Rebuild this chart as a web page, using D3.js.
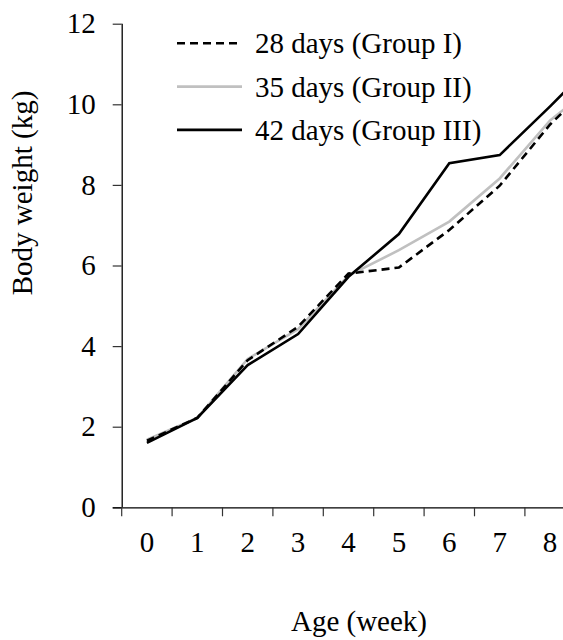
<!DOCTYPE html>
<html>
<head>
<meta charset="utf-8">
<script src="https://cdn.jsdelivr.net/npm/d3@7"></script>
<style>
  body { margin: 0; background: #fff; }
</style>
</head>
<body>
<div id="chart"></div>
<script>
// weeks of age (week 9 sits just past the right edge of the picture)
const weeks = [0, 1, 2, 3, 4, 5, 6, 7, 8, 9];
const weekLabels = [0, 1, 2, 3, 4, 5, 6, 7, 8];
const yTicks = [0, 2, 4, 6, 8, 10, 12];

// body weight (kg)
const groupI = [1.65, 2.22, 3.65, 4.48, 5.80, 5.95, 6.88, 7.98, 9.50, 10.70];
const groupII = [1.68, 2.22, 3.68, 4.42, 5.75, 6.38, 7.09, 8.16, 9.60, 10.60];
const groupIII = [1.60, 2.22, 3.53, 4.30, 5.72, 6.78, 8.54, 8.74, 9.95, 11.20];

const seriesNames = ["28 days (Group I)", "35 days (Group II)", "42 days (Group III)"];

const width = 563;
const height = 640;
const plotLeft = 121.7;
const step = 50.4;
const plotTop = 23.7;
const plotBottom = 507.3;
const serif = "Liberation Serif";
const fontSize = 29;

const svg = d3.select("#chart")
    .append("svg")
    .attr("width", width)
    .attr("height", height);

const x = d3.scaleBand()
    .domain(weeks)
    .range([plotLeft, plotLeft + weeks.length * step])
    .padding(0);

const y = d3.scaleLinear()
    .domain([0, 12])
    .range([plotBottom, plotTop]);

const cx = d => x(d) + x.bandwidth() / 2;

// y axis
const yAxis = svg.append("g")
    .attr("transform", `translate(${plotLeft},0)`)
    .call(d3.axisLeft(y).tickValues(yTicks).tickSize(9).tickPadding(17));
yAxis.attr("font-family", serif).attr("font-size", fontSize);
yAxis.select(".domain").attr("stroke", "#000").attr("stroke-width", 1.3)
    .attr("d", `M0.5,${plotTop}V${plotBottom}`);
yAxis.selectAll(".tick line").attr("stroke", "#333").attr("stroke-width", 1.2);
yAxis.selectAll(".tick text").attr("fill", "#000");

// x axis: tick marks on the category boundaries, labels in the middle
const xAxis = svg.append("g")
    .attr("transform", `translate(0,${plotBottom})`)
    .call(d3.axisBottom(x).tickValues(weekLabels).tickSize(0).tickPadding(24));
xAxis.attr("font-family", serif).attr("font-size", fontSize);
xAxis.select(".domain").attr("stroke", "#000").attr("stroke-width", 1.3)
    .attr("d", `M${plotLeft - 9},0.5H${width}`);
xAxis.selectAll(".tick text").attr("fill", "#000");

xAxis.selectAll(".boundary")
    .data(weekLabels)
    .enter()
    .append("line")
    .attr("class", "boundary")
    .attr("x1", d => x(d))
    .attr("x2", d => x(d))
    .attr("y1", 0)
    .attr("y2", 9)
    .attr("stroke", "#333")
    .attr("stroke-width", 1.2);

// axis titles
svg.append("text")
    .attr("transform", "translate(32,193) rotate(-90)")
    .attr("text-anchor", "middle")
    .style("font-family", serif)
    .style("font-size", fontSize + "px")
    .text("Body weight (kg)");

svg.append("text")
    .attr("x", 359)
    .attr("y", 631)
    .attr("text-anchor", "middle")
    .style("font-family", serif)
    .style("font-size", fontSize + "px")
    .text("Age (week)");

// lines
const line = d3.line()
    .x((d, i) => cx(weeks[i]))
    .y(d => y(d));

const styles = [
    { data: groupII, stroke: "#c0c0c0", dash: null },
    { data: groupI, stroke: "#000", dash: "8,5" },
    { data: groupIII, stroke: "#000", dash: null }
];

svg.append("clipPath")
    .attr("id", "clip")
    .append("rect")
    .attr("x", plotLeft)
    .attr("y", 0)
    .attr("width", width - plotLeft)
    .attr("height", plotBottom);

svg.append("g")
    .attr("clip-path", "url(#clip)")
    .selectAll(".series")
    .data(styles)
    .enter()
    .append("path")
    .attr("class", "series")
    .attr("d", d => line(d.data))
    .attr("fill", "none")
    .attr("stroke", d => d.stroke)
    .attr("stroke-width", 2.6)
    .attr("stroke-dasharray", d => d.dash)
    .attr("stroke-linejoin", "miter");

// legend
const legendStyles = [
    { stroke: "#000", dash: "8,5" },
    { stroke: "#c0c0c0", dash: null },
    { stroke: "#000", dash: null }
];

const legend = svg.append("g").attr("class", "legend");
const items = legend.selectAll("g")
    .data(seriesNames)
    .enter()
    .append("g")
    .attr("transform", (d, i) => `translate(0,${43.3 + i * 43.3})`);

items.append("line")
    .attr("x1", 177)
    .attr("x2", 242)
    .attr("y1", 0)
    .attr("y2", 0)
    .attr("stroke", (d, i) => legendStyles[i].stroke)
    .attr("stroke-dasharray", (d, i) => legendStyles[i].dash)
    .attr("stroke-width", 2.6);

items.append("text")
    .attr("x", 255)
    .attr("y", 10)
    .style("font-family", serif)
    .style("font-size", fontSize + "px")
    .text(d => d);
</script>
</body>
</html>
